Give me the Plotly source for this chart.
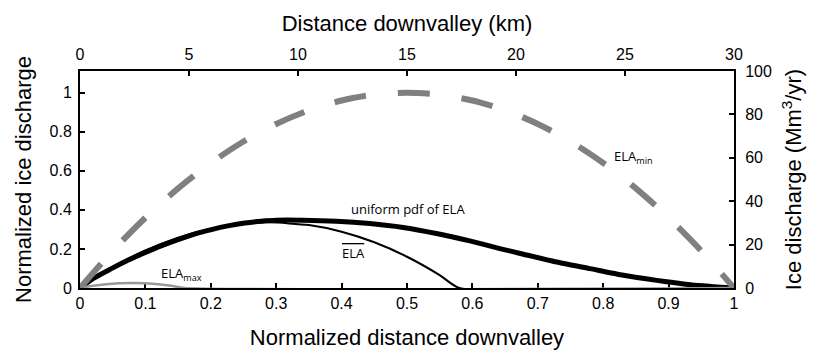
import plotly.graph_objects as go

# ---- data ----
x_pdf = [0, 0.0225, 0.048, 0.073, 0.099, 0.124, 0.150, 0.175, 0.201, 0.226, 0.252, 0.277,
         0.300, 0.341, 0.392, 0.443, 0.494, 0.545, 0.596, 0.642, 0.678, 0.729, 0.780,
         0.831, 0.882, 0.907, 0.933, 0.958, 0.98, 1.0]
y_pdf = [0, 0.053, 0.099, 0.142, 0.181, 0.216, 0.248, 0.276, 0.299, 0.318, 0.333, 0.342,
         0.347, 0.347, 0.342, 0.330, 0.310, 0.279, 0.241, 0.202, 0.173, 0.133, 0.099,
         0.065, 0.039, 0.028, 0.017, 0.010, 0.004, 0.0]

x_mean = [0, 0.05, 0.10, 0.15, 0.20, 0.25, 0.29, 0.35, 0.40, 0.45, 0.50, 0.55, 0.58, 1.0]
y_mean = [0, 0.106, 0.192, 0.258, 0.304, 0.330, 0.336, 0.322, 0.288, 0.234, 0.160, 0.066, 0, 0]

x_max = [0, 0.02, 0.04, 0.06, 0.08, 0.10, 0.12, 0.14, 0.16, 1.0]
y_max = [0, 0.011, 0.019, 0.024, 0.026, 0.024, 0.019, 0.011, 0, 0]

x_min = [0, 0.05, 0.10, 0.15, 0.20, 0.25, 0.30, 0.35, 0.40, 0.45, 0.50,
         0.55, 0.60, 0.65, 0.70, 0.75, 0.80, 0.85, 0.90, 0.95, 1.0]
y_min = [0, 0.19, 0.36, 0.51, 0.64, 0.75, 0.84, 0.91, 0.96, 0.99, 1.0,
         0.99, 0.96, 0.91, 0.84, 0.75, 0.64, 0.51, 0.36, 0.19, 0]

x_ticks = [0, 0.1, 0.2, 0.3, 0.4, 0.5, 0.6, 0.7, 0.8, 0.9, 1]
x_tick_labels = ["0", "0.1", "0.2", "0.3", "0.4", "0.5", "0.6", "0.7", "0.8", "0.9", "1"]
y_ticks = [0, 0.2, 0.4, 0.6, 0.8, 1]
y_tick_labels = ["0", "0.2", "0.4", "0.6", "0.8", "1"]
km_ticks = [0, 5, 10, 15, 20, 25, 30]
q_ticks = [0, 20, 40, 60, 80, 100]

AX_FONT = "Liberation Sans, Arial, Helvetica, sans-serif"
LBL_FONT = "Open Sans, Lato, sans-serif"
TICK_SIZE = 16
TITLE_SIZE = 22

fig = go.Figure()
fig.add_trace(go.Scatter(x=x_pdf, y=y_pdf, mode="lines", line=dict(color="black", width=5, shape="spline", smoothing=0.6),
                         showlegend=False, hoverinfo="skip", cliponaxis=False))
fig.add_trace(go.Scatter(x=x_mean, y=y_mean, mode="lines", line=dict(color="black", width=2, shape="spline", smoothing=0.6),
                         showlegend=False, hoverinfo="skip", cliponaxis=False))
fig.add_trace(go.Scatter(x=x_max, y=y_max, mode="lines", line=dict(color="#999999", width=2.5, shape="spline", smoothing=0.6),
                         showlegend=False, hoverinfo="skip", cliponaxis=False))
fig.add_trace(go.Scatter(x=x_min, y=y_min, mode="lines", line=dict(color="#808080", width=6, dash="32px,32px", shape="spline", smoothing=0.8),
                         showlegend=False, hoverinfo="skip", cliponaxis=False))
# invisible traces to activate secondary axes
fig.add_trace(go.Scatter(x=[0, 30], y=[None, None], xaxis="x2", yaxis="y", mode="lines", showlegend=False, hoverinfo="skip"))
fig.add_trace(go.Scatter(x=[None, None], y=[0, 100], xaxis="x", yaxis="y2", mode="lines", showlegend=False, hoverinfo="skip"))

common = dict(ticks="inside", ticklen=5, tickwidth=1.5, tickcolor="black", showline=True,
              linecolor="black", linewidth=2, showgrid=False, zeroline=False, automargin=False,
              tickfont=dict(size=TICK_SIZE, family=AX_FONT))

fig.update_layout(
    width=813, height=354,
    margin=dict(l=80, r=79, t=71, b=66),
    paper_bgcolor="white", plot_bgcolor="white",
    font=dict(family=AX_FONT, color="black"),
    xaxis=dict(range=[0, 1], tickvals=x_ticks, ticktext=x_tick_labels, layer="below traces",
               title=dict(text="Normalized distance downvalley", font=dict(size=TITLE_SIZE, family=AX_FONT), standoff=18),
               **common),
    xaxis2=dict(range=[0, 30], overlaying="x", side="top", tickvals=km_ticks, ticklabelstandoff=3,
                title=dict(text="Distance downvalley (km)", font=dict(size=TITLE_SIZE, family=AX_FONT), standoff=8),
                **common),
    yaxis=dict(range=[0, 1.111], tickvals=y_ticks, ticktext=y_tick_labels, ticklabelstandoff=3,
               title=dict(text="Normalized ice discharge", font=dict(size=TITLE_SIZE, family=AX_FONT), standoff=12),
               **common),
    yaxis2=dict(range=[0, 100], overlaying="y", side="right", tickvals=q_ticks, ticklabelstandoff=6,
                title=dict(text="Ice discharge (Mm<sup>3</sup>/yr)", font=dict(size=TITLE_SIZE, family=AX_FONT), standoff=15),
                **common),
)

fig.add_annotation(x=0.5015, y=0.404, xref="x", yref="y", text="uniform pdf of ELA", showarrow=False,
                   font=dict(family=LBL_FONT, size=13, color="black"))
fig.add_annotation(x=0.418, y=0.178, xref="x", yref="y",
                   text='<span style="text-decoration:overline">ELA</span>', showarrow=False,
                   font=dict(family=LBL_FONT, size=13, color="black"))
fig.add_annotation(x=0.155, y=0.072, xref="x", yref="y", text="ELA<sub>max</sub>", showarrow=False,
                   font=dict(family=LBL_FONT, size=13, color="black"))
fig.add_annotation(x=0.846, y=0.672, xref="x", yref="y", text="ELA<sub>min</sub>", showarrow=False,
                   font=dict(family=LBL_FONT, size=13, color="black"))

fig.write_html("out.html")
